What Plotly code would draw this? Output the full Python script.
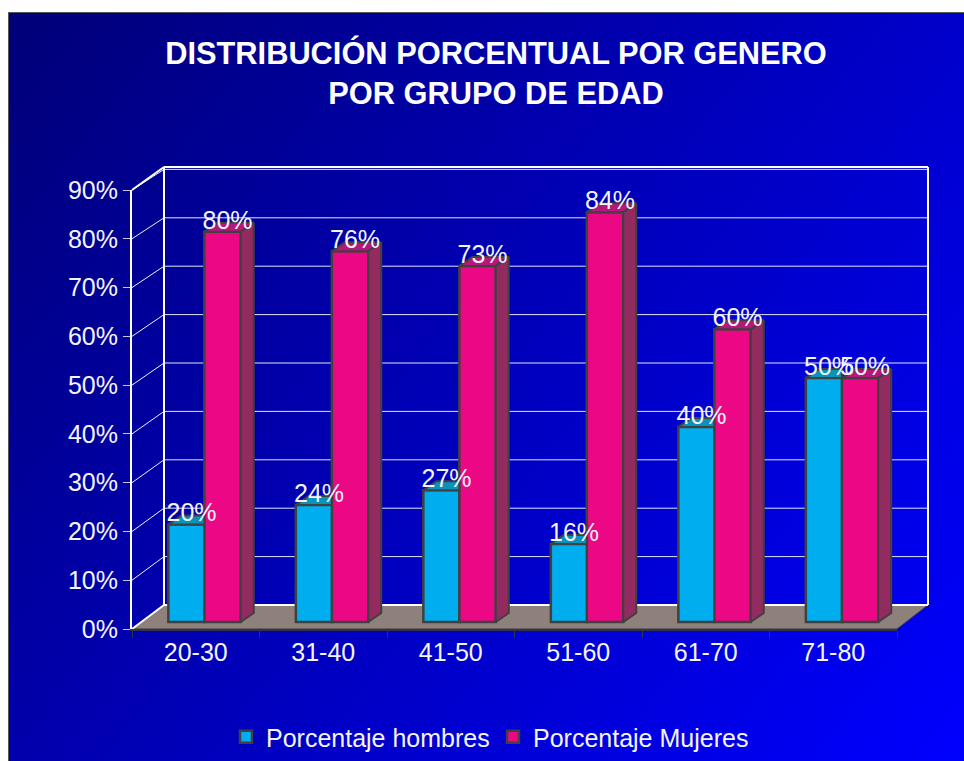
"""Distribución porcentual por género y grupo de edad (barras con efecto 3D)."""
import base64
import plotly.graph_objects as go

# --- DATOS ---
grupos = ["20-30", "31-40", "41-50", "51-60", "61-70", "71-80"]
hombres = [20, 24, 27, 16, 40, 50]
mujeres = [80, 76, 73, 84, 60, 50]
ticks_y = [0, 10, 20, 30, 40, 50, 60, 70, 80, 90]

# --- GEOMETRIA (pixeles de la pagina) ---
ANCHO, ALTO = 964, 761
IZQ, DER, ARRIBA, ABAJO = 132, 897, 190, 629
PX_CAT = (DER - IZQ) / len(grupos)
PX_PCT = (ABAJO - ARRIBA) / 90

BASE = 7 / PX_PCT            # las barras se apoyan un poco detras del borde del piso
ANCHO_BARRA = 36.4 / PX_CAT
OFF_H = -27.4 / PX_CAT
OFF_M = 8.6 / PX_CAT
PROF_X = 13 / PX_CAT
PROF_Y = 9 / PX_PCT
BORDE = "#404040"


def px(x):
    return (x - IZQ) / (DER - IZQ)


def py(y):
    return (ABAJO - y) / (ABAJO - ARRIBA)


def linea(x0, y0, x1, y1, color="white", width=1):
    return dict(type="line", xref="paper", yref="paper", layer="below",
                x0=px(x0), y0=py(y0), x1=px(x1), y1=py(y1),
                line=dict(color=color, width=width))


def cara(xs, ys, color):
    return go.Scatter(x=xs, y=ys, xaxis="x2", yaxis="y", mode="lines", fill="toself",
                      fillcolor=color, line=dict(color=BORDE, width=2),
                      cliponaxis=False, showlegend=False, hoverinfo="skip")


svg = f"""<svg xmlns="http://www.w3.org/2000/svg" width="{ANCHO}" height="{ALTO}">
<defs><linearGradient id="g" gradientUnits="userSpaceOnUse" x1="8" y1="12" x2="964" y2="761">
<stop offset="0" stop-color="#000078"/><stop offset="1" stop-color="#0000ff"/>
</linearGradient></defs>
<rect x="8.5" y="12.5" width="960" height="770" fill="url(#g)" stroke="#555555"/>
</svg>"""
fondo = "data:image/svg+xml;base64," + base64.b64encode(svg.encode()).decode()

# --- PAREDES Y PISO ---
fondo_y = lambda v: 605 - 4.84 * v
formas = [dict(type="path", xref="paper", yref="paper", layer="below",
               path=f"M{px(IZQ)},{py(ABAJO)} L{px(164)},{py(605)} L{px(928)},{py(605)} L{px(DER)},{py(ABAJO)} Z",
               fillcolor="#8E817B", line=dict(color="#3a3a4a", width=1))]
for v in ticks_y[1:]:
    formas.append(linea(164, fondo_y(v), 928, fondo_y(v), "#e4e4f8"))
    formas.append(linea(IZQ, ABAJO - v * PX_PCT, 164, fondo_y(v), "#f0f0ff"))
formas += [
    linea(164, 605, 928, 605, width=2),
    linea(164, 167, 164, 605, width=2),
    linea(928, 167, 928, 605, width=2),
    linea(164, 167, 928, 167, width=2),
    linea(IZQ, ARRIBA, 164, 167, width=2),
    linea(IZQ, ABAJO, 164, 605, width=2),
]

fig = go.Figure()

# --- CARAS FRONTALES ---
fig.add_bar(x=grupos, y=hombres, base=[BASE] * 6, name="Porcentaje hombres",
            offset=OFF_H, width=ANCHO_BARRA, marker=dict(color="#00AEEF", line=dict(color=BORDE, width=2.5)))
fig.add_bar(x=grupos, y=mujeres, base=[BASE] * 6, name="Porcentaje Mujeres",
            offset=OFF_M, width=ANCHO_BARRA, marker=dict(color="#EC0785", line=dict(color=BORDE, width=2.5)))

# --- CARAS SUPERIORES Y LATERALES ---
for i in range(len(grupos)):
    izq_h, izq_m = i + OFF_H, i + OFF_M
    der_m = izq_m + ANCHO_BARRA
    top_h, top_m = hombres[i] + BASE, mujeres[i] + BASE
    fig.add_trace(cara([izq_h, izq_h + PROF_X, izq_m, izq_m, izq_h],
                       [top_h, top_h + PROF_Y, top_h + PROF_Y, top_h, top_h], "#0A93B8"))
    fig.add_trace(cara([izq_m, izq_m + PROF_X, der_m + PROF_X, der_m, izq_m],
                       [top_m, top_m + PROF_Y, top_m + PROF_Y, top_m, top_m], "#B5177A"))
    fig.add_trace(cara([der_m, der_m + PROF_X, der_m + PROF_X, der_m, der_m],
                       [top_m, top_m + PROF_Y, BASE + PROF_Y, BASE, top_m], "#932A60"))

# --- ETIQUETAS DE DATOS ---
for offset, valores in ((OFF_H, hombres), (OFF_M, mujeres)):
    fig.add_trace(go.Scatter(
        x=[i + offset + ANCHO_BARRA / 2 + 5 / PX_CAT for i in range(len(grupos))],
        y=[v + BASE + 9.5 / PX_PCT for v in valores],
        xaxis="x2", yaxis="y", mode="text", text=[f"{v}%" for v in valores],
        textposition="middle center", textfont=dict(color="#f4f4ff", size=25),
        cliponaxis=False, showlegend=False, hoverinfo="skip"))

fig.update_layout(
    width=ANCHO, height=ALTO,
    margin=dict(l=IZQ, r=ANCHO - DER, t=ARRIBA, b=ALTO - ABAJO, pad=0, autoexpand=False),
    paper_bgcolor="white", plot_bgcolor="rgba(0,0,0,0)",
    font=dict(family="Liberation Sans, Arial, sans-serif", color="#f4f4ff", size=25),
    barmode="overlay",
    title=dict(text="<b>DISTRIBUCIÓN PORCENTUAL POR GENERO<br>POR GRUPO DE EDAD</b>",
               x=496 / ANCHO, xanchor="center", y=1 - 64 / ALTO, yanchor="middle",
               font=dict(size=30.8, color="white")),
    xaxis=dict(type="category", categoryorder="array", categoryarray=grupos,
               range=[-0.5, 5.5], tickson="boundaries", ticks="outside", ticklen=7,
               tickcolor="#333344", tickwidth=1, showline=True, linecolor="#333344", linewidth=2,
               showgrid=False, zeroline=False, fixedrange=True),
    xaxis2=dict(overlaying="x", anchor="y", range=[-0.5, 5.5], visible=False, fixedrange=True),
    yaxis=dict(range=[0, 90], tickvals=ticks_y, ticktext=[f"{v}%" for v in ticks_y],
               ticks="outside", ticklen=7, tickcolor="#c8c8ec", tickwidth=1,
               showline=True, linecolor="white", linewidth=2,
               showgrid=False, zeroline=False, fixedrange=True),
    legend=dict(orientation="h", x=px(226), xanchor="left", y=py(737), yanchor="middle",
                bgcolor="rgba(0,0,0,0)", font=dict(size=25, color="#f4f4ff"),
                entrywidth=222, entrywidthmode="pixels"),
    images=[dict(source=fondo, xref="paper", yref="paper", x=px(0), y=py(0),
                 sizex=ANCHO / (DER - IZQ), sizey=ALTO / (ABAJO - ARRIBA),
                 xanchor="left", yanchor="top", sizing="stretch", layer="below")],
    shapes=formas,
    hovermode=False,
)

fig.write_html("out.html", config={"displayModeBar": False},
               post_script="document.body.style.margin='0';document.documentElement.style.overflow='hidden';")
